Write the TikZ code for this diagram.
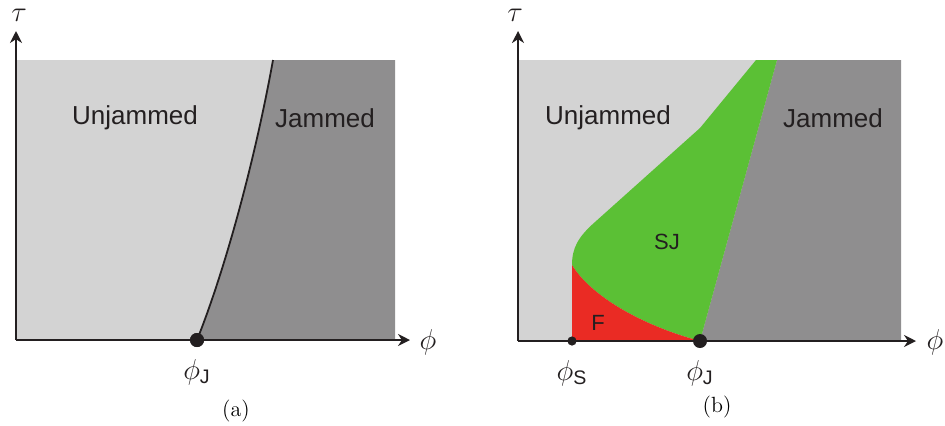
\documentclass[tikz,border=0pt]{standalone}
\usepackage{amsmath}
\usepackage{fontspec}
\newfontfamily\labelfont{Liberation Sans}
\usepackage{xcolor}
\usetikzlibrary{arrows.meta,positioning}
\definecolor{unjam}{HTML}{D3D3D3}
\definecolor{jam}{HTML}{8F8E8F}
\definecolor{sjgreen}{HTML}{5BC035}
\definecolor{fred}{HTML}{EA2B24}
\definecolor{ink}{HTML}{231F20}
\newcommand{\phisub}[1]{$\phi_{\text{\labelfont #1}}$}
\tikzset{
  axisarr/.style={-{Stealth[length=6pt,width=6pt]},line width=0.9pt,color=ink},
  border/.style={line width=0.9pt,color=ink},
  region/.style={font=\labelfont\fontsize{13}{15}\selectfont,text=ink},
  phase/.style={font=\labelfont\fontsize{11}{13}\selectfont,text=ink},
  sym/.style={font=\fontsize{14}{16}\selectfont,text=ink},
  dotbig/.style={circle,fill=ink,inner sep=0pt,minimum size=7pt},
  dotsmall/.style={circle,fill=ink,inner sep=0pt,minimum size=4.6pt},
  caption/.style={font=\fontsize{11}{13}\selectfont},
}
\begin{document}
\begin{tikzpicture}[x=0.5pt,y=-0.5pt]
\useasboundingbox (0,0) rectangle (945,425);
% (a) jamming without shear
\fill[unjam] (16,60) rectangle (395,340);
\fill[jam] (197,340) .. controls (225,270) and (255,160) .. (273,60) -- (395,60) -- (395,340) -- cycle;
\coordinate (oa) at (16,340);
\coordinate (xa) at (410,340);
\coordinate (ya) at (16,31);
\node[dotbig] (jA) at (197,340) {};
\coordinate (topA) at (273,60);
\draw[border] (jA.center) .. controls (225,270) and (255,160) .. (topA);
\draw[axisarr] (oa) -- (xa);
\draw[axisarr] (oa) -- (ya);
\node[dotbig] at (jA) {};
\node[sym] (tauA) at (19,15) {$\tau$};
\node[sym] (phiA) at (428,342) {$\phi$};
\node[sym] (phiJA) at (197,372) {\phisub{J}};
\node[region] (unA) at (135,118) {Unjammed};
\node[region] (jamA) at (325,118) {Jammed};
\node[caption] (capA) at (236,411) {(a)};
% (b) with shear: fragile and shear-jammed states
\fill[unjam] (518,60) rectangle (901,341);
\fill[jam] (700,341) -- (777,60) -- (901,60) -- (901,341) -- cycle;
\fill[sjgreen] (572,265) .. controls (572,248) and (578,237) .. (595,222) -- (700,128) -- (756,60) -- (777,60) -- (700,341)
  .. controls (640,325) and (590,295) .. (572,265) -- cycle;
\fill[fred] (572,341) -- (572,265) .. controls (590,295) and (640,325) .. (700,341) -- cycle;
\coordinate (ob) at (518,341);
\coordinate (xb) at (916,341);
\coordinate (yb) at (518,31);
\draw[axisarr] (ob) -- (xb);
\draw[axisarr] (ob) -- (yb);
\node[dotsmall] (sB) at (572,341) {};
\node[dotbig] (jB) at (700,341) {};
\node[sym] (tauB) at (515,15) {$\tau$};
\node[sym] (phiB) at (935,342) {$\phi$};
\node[sym] (phiSB) at (572,373) {\phisub{S}};
\node[sym] (phiJB) at (700,373) {\phisub{J}};
\node[region] (unB) at (608,118) {Unjammed};
\node[region] (jamB) at (833,118) {Jammed};
\node[phase] (sj) at (667,242) {SJ};
\node[phase] (fr) at (598,323) {F};
\node[caption] (capB) at (717,407) {(b)};
\end{tikzpicture}
\end{document}
